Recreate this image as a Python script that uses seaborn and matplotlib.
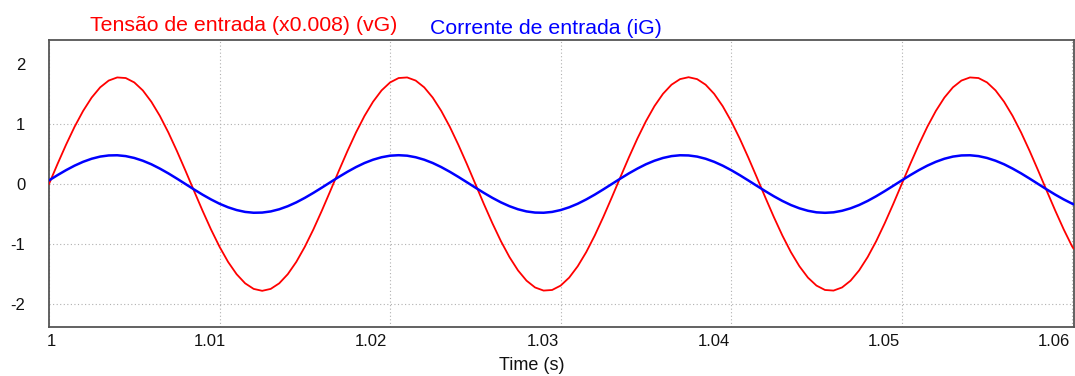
import numpy as np
import pandas as pd
import matplotlib
matplotlib.use("Agg")
import matplotlib.pyplot as plt
import matplotlib.transforms as mtransforms
import seaborn as sns

time_s = list(np.round(1.0 + 0.0005 * np.arange(121), 4)) + [1.0601]

vG_scaled = [
    0.000, 0.334, 0.655, 0.954, 1.218, 1.440, 1.611, 1.724, 1.776, 1.766,
    1.693, 1.560, 1.371, 1.135, 0.858, 0.550, 0.223, -0.112, -0.443, -0.758,
    -1.046, -1.298, -1.503, -1.655, -1.748, -1.780, -1.748, -1.655, -1.503, -1.298,
    -1.046, -0.758, -0.443, -0.112, 0.223, 0.550, 0.858, 1.135, 1.371, 1.560,
    1.693, 1.766, 1.776, 1.724, 1.611, 1.440, 1.218, 0.954, 0.655, 0.334,
    0.000, -0.334, -0.655, -0.954, -1.218, -1.440, -1.611, -1.724, -1.776, -1.766,
    -1.693, -1.560, -1.371, -1.135, -0.858, -0.550, -0.223, 0.112, 0.443, 0.758,
    1.046, 1.298, 1.503, 1.655, 1.748, 1.780, 1.748, 1.655, 1.503, 1.298,
    1.046, 0.758, 0.443, 0.112, -0.223, -0.550, -0.858, -1.135, -1.371, -1.560,
    -1.693, -1.766, -1.776, -1.724, -1.611, -1.440, -1.218, -0.954, -0.655, -0.334,
    0.000, 0.334, 0.655, 0.954, 1.218, 1.440, 1.611, 1.724, 1.776, 1.766,
    1.693, 1.560, 1.371, 1.135, 0.858, 0.550, 0.223, -0.112, -0.443, -0.758,
    -1.046, -1.080,
]

iG = [
    0.060, 0.148, 0.231, 0.306, 0.370, 0.421, 0.457, 0.476, 0.479, 0.465,
    0.434, 0.388, 0.329, 0.257, 0.177, 0.090, 0.000, -0.090, -0.177, -0.257,
    -0.329, -0.388, -0.434, -0.465, -0.479, -0.476, -0.457, -0.421, -0.370, -0.306,
    -0.231, -0.148, -0.060, 0.030, 0.119, 0.204, 0.282, 0.350, 0.405, 0.446,
    0.472, 0.480, 0.472, 0.446, 0.405, 0.350, 0.282, 0.204, 0.119, 0.030,
    -0.060, -0.148, -0.231, -0.306, -0.370, -0.421, -0.457, -0.476, -0.479, -0.465,
    -0.434, -0.388, -0.329, -0.257, -0.177, -0.090, 0.000, 0.090, 0.177, 0.257,
    0.329, 0.388, 0.434, 0.465, 0.479, 0.476, 0.457, 0.421, 0.370, 0.306,
    0.231, 0.148, 0.060, -0.030, -0.119, -0.204, -0.282, -0.350, -0.405, -0.446,
    -0.472, -0.480, -0.472, -0.446, -0.405, -0.350, -0.282, -0.204, -0.119, -0.030,
    0.060, 0.148, 0.231, 0.306, 0.370, 0.421, 0.457, 0.476, 0.479, 0.465,
    0.434, 0.388, 0.329, 0.257, 0.177, 0.090, 0.000, -0.090, -0.177, -0.257,
    -0.329, -0.340,
]

x_ticks = [1.00, 1.01, 1.02, 1.03, 1.04, 1.05, 1.06]
x_tick_labels = ["1", "1.01", "1.02", "1.03", "1.04", "1.05", "1.06"]
y_ticks = [-2, -1, 0, 1, 2]
y_tick_labels = ["-2", "-1", "0", "1", "2"]

label_v = "Tensão de entrada (x0.008) (vG)"
label_i = "Corrente de entrada (iG)"
x_label = "Time (s)"

df = pd.DataFrame({"t": time_s, "vG": vG_scaled, "iG": iG})

# ---- style ----
sns.set_theme(style="white")
plt.rcParams["font.family"] = ["Liberation Sans", "DejaVu Sans"]

W, H, DPI = 1075, 376, 100
fig = plt.figure(figsize=(W / DPI, H / DPI), dpi=DPI)
ax = fig.add_axes([49 / W, 1 - 327 / H, (1074 - 49) / W, (327 - 40) / H])

sns.lineplot(data=df, x="t", y="vG", ax=ax, color="#ff0000", linewidth=1.3, zorder=3)
sns.lineplot(data=df, x="t", y="iG", ax=ax, color="#0000ff", linewidth=1.8, zorder=4)

ax.set_xlim(1.0, 1.0601)
ax.set_ylim(-2.383, 2.4)
ax.set_xticks(x_ticks)
ax.set_xticklabels(x_tick_labels, fontsize=12, color="#111111")
ax.set_yticks(y_ticks)
ax.set_yticklabels(y_tick_labels, fontsize=12, color="#111111")
ax.tick_params(axis="both", length=0)
ax.tick_params(axis="y", pad=17)
ax.tick_params(axis="x", pad=5)
ax.set_xlabel("")
ax.set_ylabel("")

# x tick label horizontal offsets (px) as in the reference
offsets_px = [2.5, -9.5, -19.5, -18, -17.5, -17.5, -18.5]
for lab, dx in zip(ax.get_xticklabels(), offsets_px):
    lab.set_transform(lab.get_transform() + mtransforms.ScaledTranslation(dx / DPI, 0, fig.dpi_scale_trans))

ax.grid(True, color="#b0b0b0", linewidth=0.8, linestyle=(0, (1, 2.2)))
for t, gl in zip(y_ticks, ax.yaxis.get_gridlines()):
    if t == 2:
        gl.set_visible(False)

for sp in ax.spines.values():
    sp.set_color("#555555")
    sp.set_linewidth(1.3)

fig.text(90 / W, 1 - 31 / H, label_v, color="#ff0000", fontsize=15.3, va="baseline", ha="left")
fig.text(430 / W, 1 - 34 / H, label_i, color="#0000ff", fontsize=15.3, va="baseline", ha="left")
fig.text(532 / W, 1 - 366 / H, x_label, color="#111111", fontsize=13, va="center", ha="center")

fig.savefig("out.png", dpi=DPI, facecolor="white")
